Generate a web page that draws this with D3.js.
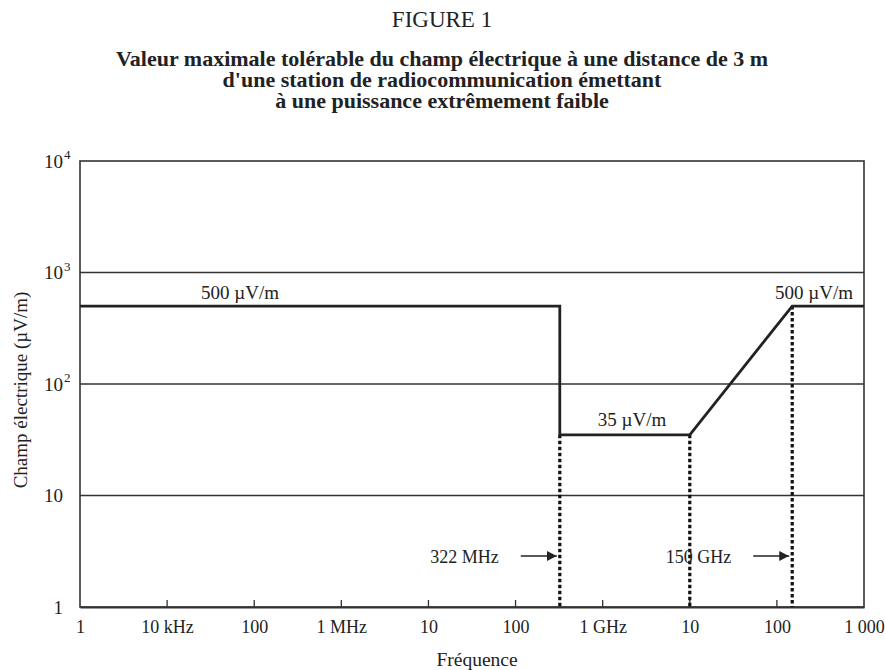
<!DOCTYPE html>
<html><head><meta charset="utf-8">
<script src="https://cdn.jsdelivr.net/npm/d3@7"></script>
<style>
body{margin:0;background:#fff;}
text{font-family:"Liberation Serif","Times New Roman",serif;fill:#222;}
</style></head>
<body><svg id="c" width="885" height="670"></svg>
<script>
const freqHz = [1e3, 322e6, 322e6, 1e10, 150e9, 1e12];
const fieldUV = [500, 500, 35, 35, 500, 500];
const xTickValues = [1e3,1e4,1e5,1e6,1e7,1e8,1e9,1e10,1e11,1e12];
const xTickLabels = ["1","10 kHz","100","1 MHz","10","100","1 GHz","10","100","1 000"];
const yTickValues = [1,10,100,1000,10000];
const yTickBase = ["1","10","10","10","10"];
const yTickExp = ["","","2","3","4"];
const markerFreqs = [322e6, 1e10, 150e9];
const markerTops = [35, 35, 500];
const markerLabels = ["322 MHz","150 GHz"];
const markerLabelFreqs = [322e6, 150e9];
const levelLabels = ["500 µV/m","35 µV/m","500 µV/m"];
const levelValues = [500, 35, 500];

const svg = d3.select("#c");
const x = d3.scaleLog().domain([1e3,1e12]).range([80,864]);
const y = d3.scaleLog().domain([1,1e4]).range([607,161]);

// titles
svg.append("text").attr("x",442).attr("y",27).attr("text-anchor","middle").style("font-size","23px").text("FIGURE 1");
const tl = ["Valeur maximale tolérable du champ électrique à une distance de 3 m","d'une station de radiocommunication émettant","à une puissance extrêmement faible"];
tl.forEach((t,i)=>svg.append("text").attr("x",442).attr("y",66+i*21).attr("text-anchor","middle").style("font-size","22px").style("font-weight","bold").text(t));

// grid lines
svg.selectAll("line.grid").data([10,100,1000]).enter().append("line")
  .attr("x1",x.range()[0]).attr("x2",x.range()[1]).attr("y1",d=>y(d)).attr("y2",d=>y(d))
  .attr("stroke","#333").attr("stroke-width",1.3);
// frame
svg.append("rect").attr("x",80).attr("y",y(1e4)).attr("width",x(1e12)-80).attr("height",y(1)-y(1e4))
  .attr("fill","none").attr("stroke","#333").attr("stroke-width",1.6);

// x axis
const xAxis = d3.axisBottom(x).tickValues(xTickValues).tickSize(0).tickPadding(13)
  .tickFormat((d,i)=>xTickLabels[i]);
const gx = svg.append("g").attr("transform",`translate(0,${y(1)})`).call(xAxis);
gx.select(".domain").attr("stroke","#333").attr("stroke-width",2);
gx.selectAll("text").style("font-size","18px").style("font-family","Liberation Serif").attr("fill","#222");
svg.selectAll("line.xt").data(xTickValues.slice(1,-1)).enter().append("line")
  .attr("x1",d=>x(d)).attr("x2",d=>x(d)).attr("y1",y(1)).attr("y2",y(1)-7)
  .attr("stroke","#333").attr("stroke-width",1.3);

// y axis labels
yTickValues.forEach((d,i)=>{
  svg.append("text").attr("x",63).attr("y",y(d)+6.5).attr("text-anchor","end").style("font-size","19px").text(yTickBase[i]);
  if(yTickExp[i]) svg.append("text").attr("x",64).attr("y",y(d)-2).style("font-size","13px").text(yTickExp[i]);
});

// axis titles
svg.append("text").attr("x",477).attr("y",666).attr("text-anchor","middle").style("font-size","19.5px").text("Fréquence");
svg.append("text").attr("transform","translate(27,390) rotate(-90)").attr("text-anchor","middle").style("font-size","19px").text("Champ électrique (µV/m)");

// dotted markers
svg.selectAll("line.mk").data(markerFreqs).enter().append("line")
  .attr("x1",d=>x(d)).attr("x2",d=>x(d))
  .attr("y1",(d,i)=>y(markerTops[i])).attr("y2",y(1))
  .attr("stroke","#111").attr("stroke-width",3.2).attr("stroke-dasharray","3.5,2.5");

// main line
const pts = freqHz.map((f,i)=>[f,fieldUV[i]]);
svg.append("path").datum(pts).attr("d",d3.line().x(d=>x(d[0])).y(d=>y(d[1])))
  .attr("fill","none").attr("stroke","#222").attr("stroke-width",2.8).attr("stroke-linejoin","miter");

// level labels
const levelX = [240, 632, 814];
levelLabels.forEach((t,i)=>{
  svg.append("text").attr("x",levelX[i]).attr("y",y(levelValues[i])-(levelValues[i]===35?9:7)).attr("text-anchor","middle").style("font-size","19px").text(t);
});

// marker labels and arrows
svg.append("defs").append("marker").attr("id","ah").attr("viewBox","0 0 10 10").attr("refX",10).attr("refY",5)
  .attr("markerWidth",10).attr("markerHeight",10).attr("markerUnits","userSpaceOnUse").attr("orient","auto")
  .append("path").attr("d","M0,0L10,5L0,10z").attr("fill","#222");
markerLabels.forEach((t,i)=>{
  const xm = x(markerLabelFreqs[i]);
  svg.append("line").attr("x1",xm-39).attr("x2",xm-3).attr("y1",556).attr("y2",556)
    .attr("stroke","#222").attr("stroke-width",1.6).attr("marker-end","url(#ah)");
  svg.append("text").attr("x",xm-61).attr("y",563).attr("text-anchor","end").style("font-size","18px").text(t);
});
</script></body></html>
